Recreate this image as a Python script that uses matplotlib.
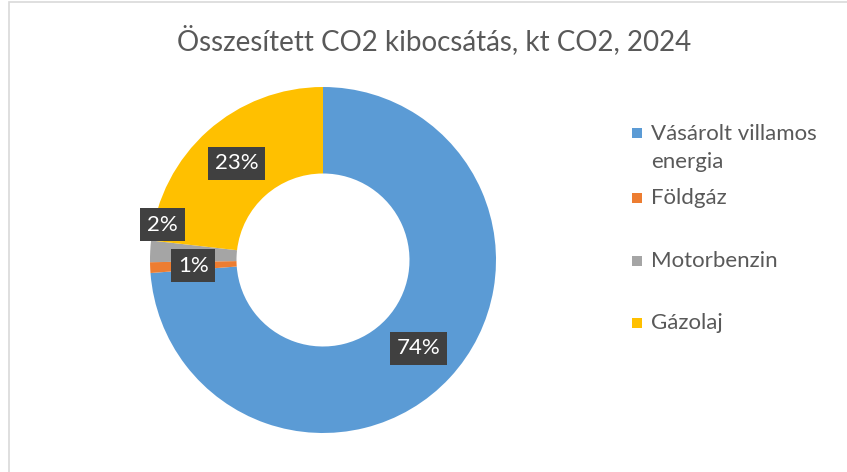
import matplotlib.pyplot as plt
import numpy as np
from matplotlib.patches import Rectangle

plt.rcParams['font.family'] = ['Lato', 'DejaVu Sans']

labels = ['Vásárolt villamos\nenergia', 'Földgáz', 'Motorbenzin', 'Gázolaj']
values = [73.8, 1.0, 2.0, 23.2]
colors = ['#5B9BD5', '#ED7D31', '#A5A5A5', '#FFC000']
title = 'Összesített CO2 kibocsátás, kt CO2, 2024'

W, H = 847, 472
fig = plt.figure(figsize=(W / 100, H / 100), dpi=100)
fig.patch.set_facecolor('white')

# light chart-area border (top / left visible)
fig.add_artist(Rectangle((9 / W, -0.1), 1.2, 1 - 2 / H + 0.1, transform=fig.transFigure,
                         fill=False, edgecolor='#D9D9D9', linewidth=1.2))

cx, cy, r = 323, 260, 173
ax = fig.add_axes([(cx - r) / W, (H - cy - r) / H, 2 * r / W, 2 * r / H])
wedges, _ = ax.pie(values, colors=colors, startangle=90, counterclock=False,
                   radius=1.0, wedgeprops=dict(width=0.5, linewidth=0))
ax.set_xlim(-1, 1)
ax.set_ylim(-1, 1)
ax.set_aspect('equal')
ax.axis('off')

total = sum(values)
for i, (w, v) in enumerate(zip(wedges, values)):
    ang = np.deg2rad((w.theta1 + w.theta2) / 2)
    rad = 0.75
    if i == 2:  # small slice label pushed outward, like Excel
        rad = 0.95
        ang += np.deg2rad(-9.5)
    x, y = rad * np.cos(ang), rad * np.sin(ang)
    ax.text(x, y, f'{round(v / total * 100):.0f}%', ha='center', va='center',
            color='white', fontsize=16,
            bbox=dict(boxstyle='square,pad=0.3', facecolor='#404040', edgecolor='none'))

fig.text(434 / W, 1 - 40 / H, title, ha='center', va='center',
         fontsize=20, color='#595959')

# legend
leg_y = [148, 198, 261, 323]
for lab, col, y in zip(labels, colors, leg_y):
    top_y = y - 15 if '\n' in lab else y
    fig.add_artist(Rectangle((632 / W, 1 - (top_y + 5) / H), 10 / W, 10 / H,
                             transform=fig.transFigure, facecolor=col, edgecolor='none'))
    fig.text(651 / W, 1 - y / H, lab, ha='left', va='center', fontsize=16,
             color='#595959', linespacing=1.5)

fig.savefig('out.png', dpi=100)
